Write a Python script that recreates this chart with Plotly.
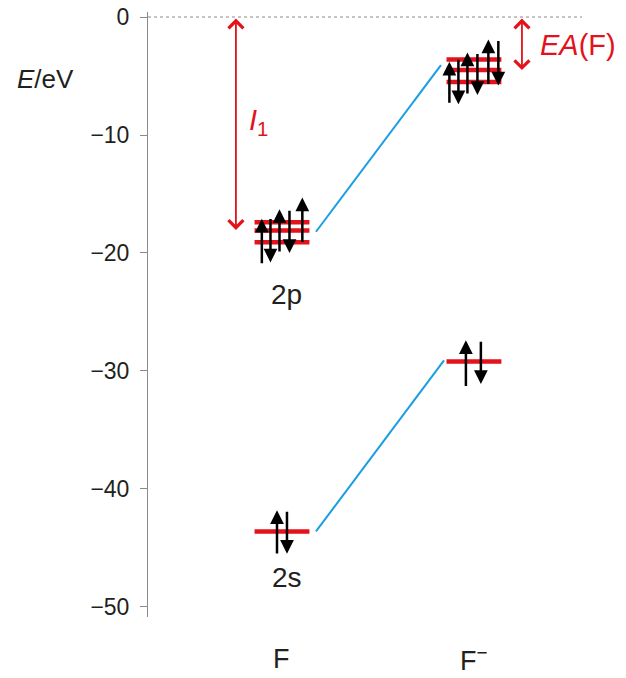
import plotly.graph_objects as go

# ---- data ----
species = ["F", "F<sup>−</sup>"]
species_x = [1.0, 2.0]
half_width = 0.143

f_2p_levels = [-17.4, -18.1, -19.1]
fm_2p_levels = [-3.6, -4.5, -5.5]
f_2s_level = -43.6
fm_2s_level = -29.2

# electron arrows: (x, tail energy, tip energy)
f_2p_electrons = [(0.895, -21.0, -17.1), (0.94, -17.0, -20.8), (0.987, -20.0, -16.3),
                  (1.039, -16.3, -20.0), (1.106, -19.2, -15.3)]
fm_2p_electrons = [(1.872, -7.4, -3.8), (1.919, -3.5, -7.4), (1.966, -6.6, -3.0),
                   (2.018, -3.0, -6.6), (2.075, -5.8, -1.9), (2.127, -1.9, -5.8)]
f_2s_electrons = [(0.974, -45.6, -41.8), (1.026, -41.8, -45.5)]
fm_2s_electrons = [(1.958, -31.4, -27.4), (2.036, -27.4, -31.1)]

# correlation lines
corr_2p = ([1.177, 1.828], [-18.2, -4.07])
corr_2s = ([1.177, 1.844], [-43.6, -29.1])

ionization_x, ionization_E = 0.76, -18.05
ea_x, ea_E = 2.25, -4.5

y_ticks = [0, -10, -20, -30, -40, -50]

RED = "#e3121b"
BLUE = "#1b9de2"
TXT = "#231f20"
FONT = "Liberation Sans, Arial, sans-serif"

fig = go.Figure()

# zero reference line
fig.add_trace(go.Scatter(x=[0.302, 2.5625], y=[0, 0], mode="lines",
                         line=dict(color="#8a8a8a", width=1, dash="dot"),
                         hoverinfo="skip", showlegend=False))

# correlation lines
for xs, ys in (corr_2p, corr_2s):
    fig.add_trace(go.Scatter(x=xs, y=ys, mode="lines", line=dict(color=BLUE, width=2),
                             hoverinfo="skip", showlegend=False))

# energy levels
def add_level(xc, e):
    fig.add_trace(go.Scatter(x=[xc - half_width, xc + half_width], y=[e, e], mode="lines",
                             line=dict(color=RED, width=4.5), hoverinfo="skip", showlegend=False))

for e in f_2p_levels:
    add_level(species_x[0], e)
for e in fm_2p_levels:
    add_level(species_x[1], e)
add_level(species_x[0], f_2s_level)
add_level(species_x[1], fm_2s_level)

annotations = []
for group in (f_2p_electrons, fm_2p_electrons, f_2s_electrons, fm_2s_electrons):
    for x, tail, tip in group:
        annotations.append(dict(x=x, y=tip, ax=x, ay=tail, xref="x", yref="y",
                                axref="x", ayref="y", text="", showarrow=True,
                                arrowhead=2, arrowsize=1.1, arrowwidth=2.5, arrowcolor="black"))

# red double arrows
for x, e in ((ionization_x, ionization_E), (ea_x, ea_E)):
    annotations.append(dict(x=x, y=e, ax=x, ay=0, xref="x", yref="y", axref="x", ayref="y",
                            text="", showarrow=True, arrowside="end+start",
                            arrowhead=4, startarrowhead=4, arrowsize=1.6, startarrowsize=1.6,
                            arrowwidth=1.8, arrowcolor=RED))

annotations += [
    dict(x=0.82, y=-8.9, text="<i>I</i><sub>1</sub>", showarrow=False, xref="x", yref="y",
         xanchor="left", yanchor="middle", font=dict(size=29, color=RED, family=FONT)),
    dict(x=2.335, y=-2.4, text="<i>EA</i>(F)", showarrow=False, xref="x", yref="y",
         xanchor="left", yanchor="middle", font=dict(size=29, color=RED, family=FONT)),
    dict(x=1.026, y=-23.5, text="2p", showarrow=False, xref="x", yref="y",
         xanchor="center", yanchor="middle", font=dict(size=28, color=TXT, family=FONT)),
    dict(x=1.026, y=-47.5, text="2s", showarrow=False, xref="x", yref="y",
         xanchor="center", yanchor="middle", font=dict(size=28, color=TXT, family=FONT)),
    dict(x=-0.2134, y=0.889, text="<i>E</i>/eV", showarrow=False, xref="paper", yref="paper",
         xanchor="center", yanchor="middle", font=dict(size=26, color=TXT, family=FONT)),
]
for name, x in zip(species, species_x):
    annotations.append(dict(x=x, y=-0.069, text=name, showarrow=False, xref="x", yref="paper",
                            xanchor="center", yanchor="middle",
                            font=dict(size=27, color=TXT, family=FONT)))

fig.update_layout(
    width=626, height=678,
    margin=dict(l=148, r=0, t=12, b=61),
    plot_bgcolor="white", paper_bgcolor="white",
    xaxis=dict(range=[0.302, 2.792], visible=False, fixedrange=True),
    yaxis=dict(range=[-50.85, 0.424], tickvals=y_ticks,
               showline=True, linecolor="#8a8a8a", linewidth=1,
               ticks="outside", ticklen=7, tickcolor="#8a8a8a", tickwidth=1,
               showgrid=False, zeroline=False, ticklabelstandoff=6,
               tickfont=dict(size=23, color=TXT, family=FONT)),
    annotations=annotations,
    showlegend=False,
)

fig.write_html("out.html")
